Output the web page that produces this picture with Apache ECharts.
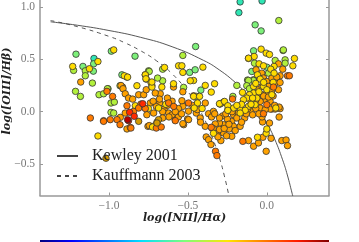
<!DOCTYPE html>
<html><head><meta charset="utf-8">
<style>html,body{margin:0;padding:0;background:#fff}#c{width:359px;height:242px}</style>
<script src="https://cdn.jsdelivr.net/npm/echarts@6/dist/echarts.min.js"></script>
</head><body><div id="c"></div>
<script>
const xTicks=[-1,-0.5,0];
const yTicks=[-0.5,0,0.5,1];
const xName='log([NII]/Hα)';
const yName='log([OIII]/Hβ)';
const kewleyX=[-1.37,-1.2,-1,-0.8,-0.6,-0.4,-0.3,-0.2,-0.15,-0.1,-0.05,0,0.05,0.1,0.13,0.16,0.165];
const kewleyY=[0.858,0.825,0.775,0.71,0.62,0.489,0.398,0.28,0.206,0.12,0.017,-0.108,-0.262,-0.459,-0.604,-0.778,-0.81];
const kauffX=[-1.37,-1.2,-1,-0.9,-0.8,-0.7,-0.6,-0.5,-0.45,-0.4,-0.35,-0.3,-0.27,-0.24];
const kauffY=[0.87,0.812,0.719,0.658,0.582,0.487,0.362,0.191,0.08,-0.056,-0.225,-0.443,-0.606,-0.803];
const cyan=[[-0.169,1.048],[-0.03,1.057],[-0.177,0.946],[-1.095,0.508]];
const mint=[[-0.074,0.829],[-0.036,0.771],[-0.451,0.622],[-0.084,0.581],[-1.209,0.549],[-0.985,0.578],[-0.835,0.53],[-1.097,0.457],[-1.165,0.432],[-1.099,0.387],[-0.918,0.352],[-0.418,0.206],[0,0.425],[-0.095,0.384],[-0.489,0.375],[-0.454,0.4]];
const lime=[[0.076,0.87],[0.103,0.584],[-1.105,0.273],[-1.212,0.194],[-1.181,0.146],[-1.063,0.162],[-0.532,0.537],[-0.527,0.232],[-0.19,0.251],[-0.122,0.302],[-0.084,0.305],[-0.66,0.406],[-0.749,0.39],[-0.66,0.295],[-0.692,0.321],[-1.224,0.394],[-1.15,0.39],[-1.15,0.343],[-1.034,0.171],[-1.006,0.219],[-0.93,0.248],[-0.987,0.083],[-0.987,-0.006],[0.105,0.59],[-0.078,0.463],[0.053,0.489],[0.116,0.495],[0.116,0.463],[0.011,0.368],[-0.084,0.298],[-0.116,0.298],[-0.127,0.248],[-0.215,0.146],[-0.274,0.092],[-1.01,0.219],[-0.966,0.092],[-0.97,-0.013],[-0.745,0.384],[-0.447,0.146],[-0.11,0.22]];
const orange=[[-1.179,0.283],[-0.914,0.235],[0.074,0.457],[0.101,0.406],[-0.068,0.4],[-0.032,0.368],[0.084,0.343],[-0.021,0.321],[0,0.289],[0.032,0.321],[0.063,0.33],[0.053,0.273],[0.084,0.279],[-0.053,0.21],[0.011,0.241],[0.074,0.21],[-0.032,0.162],[0,0.178],[-0.006,0.114],[-0.042,0.098],[0.021,0.098],[-0.105,0.013],[-0.042,0.035],[0.084,0.029],[0.032,0.025],[0.078,-0.051],[0.078,0.044],[0.053,0.025],[0.021,0.025],[-0.222,-0.092],[-0.211,-0.029],[-0.18,-0.013],[-0.169,-0.14],[-0.211,-0.14],[-0.238,-0.165],[-0.222,-0.235],[-0.274,-0.124],[-0.3,-0.108],[-0.327,-0.117],[-0.316,-0.203],[-0.274,-0.203],[-0.291,-0.276],[-0.384,-0.241],[-0.369,-0.267],[-0.354,-0.314],[-0.116,-0.276],[-0.084,-0.33],[-0.053,-0.298],[-0.025,-0.244],[-0.027,-0.098],[0.017,-0.108],[-0.004,-0.378],[0.027,-0.254],[0.095,-0.276],[0.122,-0.27],[0.131,-0.324],[-0.527,-0.124],[-0.502,-0.07],[-0.532,0.051],[-0.538,0.105],[-0.464,0.152],[-0.447,-0.013],[-0.422,-0.06],[-0.39,0.083],[-0.369,-0.019],[-0.338,0.003],[-0.39,-0.14],[-0.77,0.352],[-0.764,0.311],[-0.728,0.25],[-0.591,0.235],[-0.532,0.19],[-0.496,0.005],[-0.924,0.25],[-0.911,0.219],[-0.897,0.171],[-0.876,0.13],[-0.85,0.12],[-0.812,0.162],[-0.78,0.162],[-0.764,0.21],[-0.897,-0.013],[-0.928,-0.054],[-0.738,0.083],[-0.675,0.171],[-0.707,0.178],[-0.679,0.083],[-0.65,0.025],[-0.622,-0.013],[-0.717,-0.013],[-0.76,-0.029],[-0.753,-0.14],[-0.58,-0.076],[-0.532,-0.114],[-0.496,-0.076],[-0.886,-0.165],[-0.745,-0.133],[-0.696,-0.1],[-0.42,-0.1],[-0.6,0.1],[-0.56,0.03],[-0.63,0.06],[-0.6,-0.03],[-0.56,-0.05],[-0.47,0.06],[-0.44,0.02],[-0.08,0.08],[-0.09,-0.03],[-0.14,-0.06],[-0.03,-0.05],[0.04,0.15],[-0.1,0.1],[-0.28,-0.04],[-0.25,-0.07],[-0.3,-0.17],[-0.35,-0.05],[-0.255,-0.23],[-0.33,-0.02],[-0.3,-0.06],[-0.26,-0.02],[-0.22,0],[-0.19,-0.06],[-0.16,-0.1],[-0.13,-0.02],[-0.27,-0.16],[-0.24,-0.12],[-0.2,-0.18],[-0.34,-0.16],[-0.31,-0.24],[-0.12,0.03],[-0.07,0.03],[-0.05,-0.02],[-0.01,0.02],[-0.07,0.11],[-0.02,0.15],[0.01,0.14],[0.05,0.06],[-0.03,0.24],[0.03,0.2],[-0.66,0],[-0.7,0.05],[-0.62,-0.05],[-0.66,-0.06],[-0.72,0.1],[-0.63,0.13],[-0.68,0.12],[-0.58,0],[-0.54,-0.02]];
const yellow=[[-1.23,0.432],[-1.124,0.41],[-1.07,0.479],[-0.97,0.59],[-0.886,0.33],[-0.903,0.343],[-0.77,0.352],[-0.766,0.314],[-0.734,0.279],[-0.728,0.235],[-0.665,0.235],[-0.648,0.422],[-0.591,0.267],[-0.559,0.438],[-0.116,0.508],[-0.08,0.527],[0.175,0.508],[0.165,0.438],[-0.405,0.425],[-0.538,0.438],[-0.532,0.375],[-0.464,0.298],[-0.485,0.295],[-0.39,0.251],[-0.331,0.267],[-0.352,0.187],[-0.464,0.146],[-0.426,0.146],[-0.297,0.073],[-0.274,0.089],[-0.439,0.083],[-1.07,-0.232],[-0.72,-0.14],[-0.338,-0.206],[-0.059,-0.244],[-0.004,-0.206],[0,-0.165],[-0.116,0.511],[-0.036,0.597],[-0.004,0.559],[0.017,0.546],[-0.049,0.457],[-0.021,0.438],[0.046,0.432],[0.025,0.406],[-0.059,0.352],[0.046,0.368],[-0.042,0.311],[-0.084,0.241],[-0.021,0.241],[-0.084,0.178],[-0.11,0.162],[-0.154,0.184],[-0.127,0.13],[-0.148,0.114],[-0.063,0.13],[0.032,0.162],[-0.074,0.067],[-0.116,0.051],[-0.169,0.035],[-0.137,0.013],[-0.169,-0.013],[0.057,0.035],[-0.211,0.035],[-0.247,0.019],[-0.295,0.076],[-0.3,0.076],[-0.268,0.098],[-0.247,0.057],[-0.247,0.013],[-0.882,0.33],[-0.823,0.248],[-0.728,0.283],[-0.833,0.057],[-0.686,0.035],[-0.724,-0.146],[-0.75,0.03],[-0.46,0.035],[-0.41,0.03],[-0.64,0.07],[-0.09,0.13],[-0.05,0.19],[-0.1,0.07],[0,0.21],[0.04,0.28],[-0.02,0.28],[-0.07,0.27],[-0.16,0.07],[-0.19,0.06]];
const deep=[[-1.013,0.194],[-0.977,0.146],[-1.118,-0.06],[-1.034,-0.086],[-0.992,-0.076],[-1.034,-0.092],[-0.949,-0.076],[-0.93,-0.124],[-0.865,-0.15],[-0.861,-0.156],[-0.7,-0.156],[-0.669,-0.146],[-0.622,0.083],[-0.59,0.05],[-0.496,0.083],[-0.352,-0.149],[-0.325,-0.378],[-0.316,-0.419],[-0.152,-0.283],[0.131,0.343],[0.143,0.343],[0.042,0.235],[0,0.067],[-0.021,-0.019],[-0.217,0.121],[-0.58,-0.086],[-0.797,0.073],[-0.886,0.057],[-0.844,0.003],[-0.812,0.035],[-0.77,0.03]];
const olive=[[-1.019,-0.444],[-0.812,-0.092],[-0.686,-0.076],[-0.696,-0.108]];
const red=[[-0.786,0.076],[-0.869,-0.006],[-0.84,-0.044],[-0.876,-0.086]];
const darkRed=[[-0.882,-0.076]];
const groups=[['#2fe6b4',cyan],['#7df07a',mint],['#b2f03c',lime],['#ffa200',orange],['#ffdc00',yellow],['#ff7a00',deep],['#d49a00',olive],['#ff2a00',red],['#b40000',darkRed]];
const zip=(a,b)=>a.map((v,i)=>[v,b[i]]);
const fmt=v=>(v<0?'\u2212':'')+Math.abs(v).toFixed(1);
const serif='"Liberation Serif","DejaVu Serif",serif';
const nameFont='"DejaVu Serif",serif';
const grey='#999';
const chart=echarts.init(document.getElementById('c'),null,{renderer:'canvas'});
const axisBase={
  axisLine:{show:true,onZero:false,lineStyle:{color:grey,width:1.5}},
  splitLine:{show:false},
  axisTick:{show:true,inside:true,length:3,lineStyle:{color:grey,width:1}}
};
const scatters=groups.map(([c,d])=>({type:'scatter',data:d,symbolSize:6.5,itemStyle:{color:c,borderColor:'#333',borderWidth:0.8,opacity:1},z:3,silent:true}));
chart.setOption({
  animation:false,
  backgroundColor:'#fff',
  grid:{left:40,right:30,top:-13.5,bottom:46.5,containLabel:false,outerBoundsMode:'none'},
  xAxis:{type:'value',min:-1.437,max:0.394,...axisBase,
    axisTick:{...axisBase.axisTick,customValues:xTicks},
    axisLabel:{customValues:xTicks,formatter:fmt,color:'#777',fontFamily:serif,fontSize:11.5,margin:4},
    name:xName,nameLocation:'middle',nameGap:17,nameMoveOverlap:false,
    nameTextStyle:{fontFamily:nameFont,fontWeight:'bold',fontStyle:'italic',fontSize:11,color:'#222'}},
  yAxis:[{type:'value',min:-0.8,max:1.195,...axisBase,
    axisTick:{...axisBase.axisTick,customValues:yTicks},
    axisLabel:{customValues:yTicks,formatter:fmt,color:'#777',fontFamily:serif,fontSize:11.5,margin:5},
    name:yName,nameLocation:'middle',nameGap:27.5,nameMoveOverlap:false,
    nameTextStyle:{fontFamily:nameFont,fontWeight:'bold',fontStyle:'italic',fontSize:11,color:'#222'}},
   {type:'value',position:'right',min:-0.8,max:1.195,...axisBase,
    axisTick:{...axisBase.axisTick,customValues:yTicks},
    axisLabel:{show:false}}],
  legend:{show:true,left:51,top:143,orient:'vertical',itemWidth:21,itemHeight:10,itemGap:4,
    data:['Kewley 2001','Kauffmann 2003'],
    itemStyle:{opacity:0},
    textStyle:{fontFamily:serif,fontSize:16,color:'#222',padding:[0,0,0,9]},
    selectedMode:false},
  series:[
    ...scatters,
    {name:'Kewley 2001',type:'line',data:zip(kewleyX,kewleyY),showSymbol:false,symbol:'none',smooth:true,clip:true,itemStyle:{color:'#444'},lineStyle:{color:'#444',width:0.9},z:2},
    {name:'Kauffmann 2003',type:'line',data:zip(kauffX,kauffY),showSymbol:false,symbol:'none',smooth:true,clip:true,itemStyle:{color:'#444'},lineStyle:{color:'#444',width:0.9,type:[4,4]},z:2}
  ],
  graphic:[{type:'rect',shape:{x:40,y:240,width:289,height:2},silent:true,
    style:{fill:new echarts.graphic.LinearGradient(0,0,1,0,[
      {offset:0,color:'#00007f'},{offset:0.11,color:'#0000ff'},{offset:0.35,color:'#00e0ff'},
      {offset:0.5,color:'#7dff7a'},{offset:0.65,color:'#ffe600'},{offset:0.89,color:'#ff1a00'},{offset:1,color:'#7f0000'}])}}]
});
</script></body></html>
